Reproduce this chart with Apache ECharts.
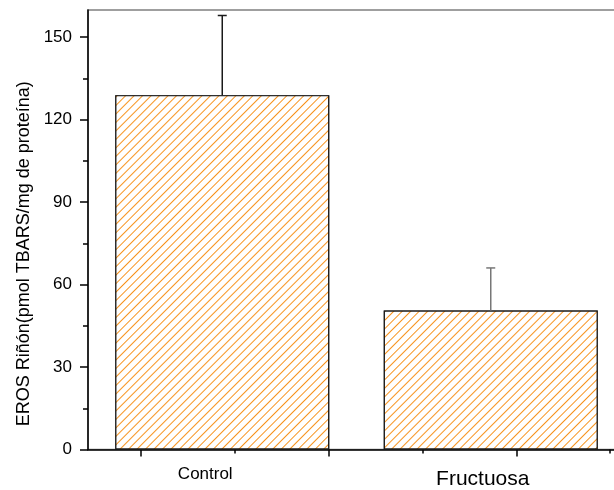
<!DOCTYPE html>
<html>
<head>
<meta charset="utf-8">
<script src="https://cdn.jsdelivr.net/npm/echarts@6/dist/echarts.min.js"></script>
<style>
  html, body { margin: 0; padding: 0; background: #fff; }
  #chart { width: 614px; height: 490px; }
</style>
</head>
<body>
<div id="chart"></div>
<script>
// Groups, mean values and upper error (SD) for kidney ROS
const categories = ['Control', 'Fructuosa'];
const means = [129, 50.6];
const errors = [29, 15.5];
const errorColors = ['#1a1a1a', '#777777'];
const yTicks = [0, 30, 60, 90, 120, 150];

const font = 'Liberation Sans, Arial, sans-serif';
const chart = echarts.init(document.getElementById('chart'));

chart.setOption({
  animation: false,
  grid: [
    // main plotting area
    { left: 88, right: -11, top: 10, bottom: 40.5, show: true, borderColor: '#808080', borderWidth: 1.5, outerBoundsMode: 'none', containLabel: false },
    // bottom tick marks
    { left: 141, right: -90, top: 10, bottom: 40.5, outerBoundsMode: 'none' },
    // left tick marks and labels
    { left: 88, right: -11, top: -45.5, bottom: 40.5, outerBoundsMode: 'none' }
  ],
  xAxis: [
    {
      type: 'category', gridIndex: 0, data: [
        { value: categories[0], textStyle: { fontSize: 17, padding: [0, 34, 0, 0] } },
        { value: categories[1], textStyle: { fontSize: 21, padding: [3, 16, 0, 0] } }
      ],
      axisLine: { lineStyle: { color: '#000', width: 1.5 } },
      axisTick: { show: false },
      axisLabel: { color: '#000', fontFamily: font, margin: 16, interval: 0 }
    },
    {
      type: 'value', gridIndex: 1, min: 0, max: 6, interval: 2,
      axisLine: { show: false },
      axisTick: { show: true, inside: false, length: 7, lineStyle: { color: '#000', width: 1.5 } },
      minorTick: { show: true, splitNumber: 2, length: 4, lineStyle: { color: '#000', width: 1.5 } },
      axisLabel: { show: false },
      splitLine: { show: false }
    },
    {
      type: 'value', gridIndex: 2, min: 0, max: 1, show: false
    }
  ],
  yAxis: [
    {
      type: 'value', gridIndex: 0, min: 0, max: 160,
      name: 'EROS Riñón(pmol TBARS/mg de proteína)',
      nameLocation: 'middle', nameGap: 55,
      nameTextStyle: { color: '#000', fontFamily: font, fontSize: 18, padding: [0, 48, 0, 0] },
      axisLine: { show: true, lineStyle: { color: '#000', width: 1.5 } },
      axisTick: { show: false },
      axisLabel: { show: false },
      splitLine: { show: false }
    },
    {
      type: 'value', gridIndex: 1, min: 0, max: 160, show: false
    },
    {
      type: 'value', gridIndex: 2, min: 0, max: 180, interval: 30,
      axisLine: { show: false },
      axisTick: { show: true, inside: false, length: 8, lineStyle: { color: '#000', width: 1.5 } },
      minorTick: { show: true, splitNumber: 2, length: 5, lineStyle: { color: '#000', width: 1.5 } },
      axisLabel: {
        color: '#000', fontFamily: font, fontSize: 17, margin: 16,
        customValues: yTicks
      },
      splitLine: { show: false }
    }
  ],
  series: [
    {
      type: 'bar', xAxisIndex: 0, yAxisIndex: 0,
      data: means, barWidth: 214,
      itemStyle: {
        color: '#ffffff',
        borderColor: '#1a1a1a', borderWidth: 1.2,
        // orange diagonal hatch
        decal: {
          symbol: 'rect', symbolSize: 1, color: '#f7931e', backgroundColor: '#ffffff',
          dashArrayX: [1, 0], dashArrayY: [1, 4.7], rotation: -Math.PI / 4
        }
      },
      z: 2
    },
    {
      type: 'custom', xAxisIndex: 0, yAxisIndex: 0, z: 3,
      data: means.map((m, i) => [i, m, errors[i]]),
      renderItem: function (params, api) {
        const i = api.value(0);
        const base = api.coord([i, api.value(1)]);
        const top = api.coord([i, api.value(1) + api.value(2)]);
        const col = errorColors[i];
        const half = 4.5;
        return {
          type: 'group',
          children: [
            { type: 'line', shape: { x1: base[0], y1: base[1], x2: top[0], y2: top[1] }, style: { stroke: col, lineWidth: 1.5 } },
            { type: 'line', shape: { x1: top[0] - half, y1: top[1], x2: top[0] + half, y2: top[1] }, style: { stroke: col, lineWidth: 1.5 } }
          ]
        };
      }
    }
  ]
});
</script>
</body>
</html>
